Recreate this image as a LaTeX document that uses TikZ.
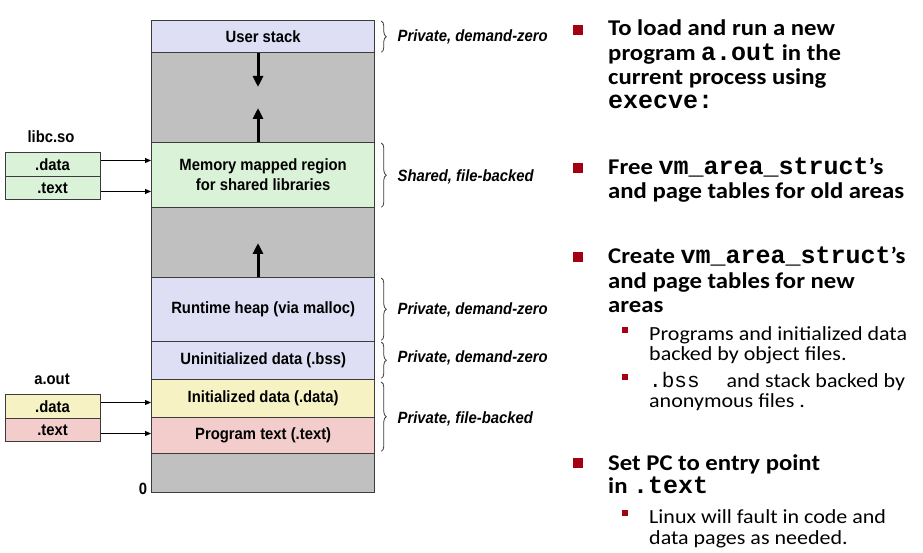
\documentclass[tikz,border=0pt]{standalone}
\usepackage{fontspec}
\setmainfont{Liberation Sans}[FakeStretch=0.91]
\newfontfamily\calfont{Carlito}[FakeStretch=1.1]
\newfontfamily\monofont{Liberation Mono}
\usetikzlibrary{arrows.meta,decorations.pathreplacing}
\definecolor{lav}{RGB}{222,222,244}
\definecolor{grayfill}{RGB}{192,192,192}
\definecolor{grn}{RGB}{218,242,216}
\definecolor{yel}{RGB}{246,242,196}
\definecolor{pnk}{RGB}{243,204,204}
\definecolor{edge}{RGB}{60,60,60}
\definecolor{bul}{RGB}{163,0,18}
\newcommand{\ms}[1]{{\monofont\bfseries\fontsize{25}{25}\selectfont #1}}
\newcommand{\mr}[1]{{\monofont\fontsize{21}{21}\selectfont #1}}
\begin{document}
\begin{tikzpicture}[x=1pt,y=-1pt,
  seg/.style={draw=edge,line width=1.3pt,minimum width=223pt,anchor=north west,inner sep=0pt,
    font=\bfseries\fontsize{16.3}{20}\selectfont,align=center},
  lbox/.style={draw=edge,line width=1pt,minimum width=95pt,anchor=north west,inner sep=0pt,
    font=\bfseries\fontsize{16.3}{18}\selectfont},
  ttl/.style={font=\bfseries\fontsize{16.3}{18}\selectfont,inner sep=0pt},
  lbl/.style={font=\bfseries\itshape\fontsize{16.3}{18}\selectfont,anchor=west,inner sep=0pt},
  bigarrow/.style={line width=3pt,-{Triangle[length=11pt,width=10pt]}},
  smallarrow/.style={draw=edge,line width=1pt,-{Triangle[length=6pt,width=5pt]},black},
  brc/.style={draw=edge,line width=0.8pt,decorate,decoration={brace,amplitude=5pt}},
  mainln/.style={font=\calfont\bfseries\fontsize{22.5}{24}\selectfont,anchor=base west,inner sep=0pt},
  subln/.style={font=\calfont\fontsize{20}{21}\selectfont,anchor=base west,inner sep=0pt},
  bulsq/.style={fill=bul,minimum size=10pt,inner sep=0pt},
  subsq/.style={fill=bul,minimum size=6pt,inner sep=0pt}]
\useasboundingbox (0,0) rectangle (923,553);
\fill[white] (0,0) rectangle (923,553);

% memory column
\node[seg,fill=lav,minimum height=32pt] (stack) at (151,20) {User stack};
\node[seg,fill=grayfill,minimum height=90pt] (g1) at (151,52) {};
\node[seg,fill=grn,minimum height=65pt] (mmap) at (151,142) {Memory mapped region\\for shared libraries};
\node[seg,fill=grayfill,minimum height=70pt] (g2) at (151,207) {};
\node[seg,fill=lav,minimum height=64pt] (heap) at (151,277) {Runtime heap (via malloc)};
\node[seg,fill=lav,minimum height=38pt] (bss) at (151,341) {Uninitialized data (.bss)};
\node[seg,fill=yel,minimum height=38pt] (data) at (151,379) {Initialized data (.data)};
\node[seg,fill=pnk,minimum height=36pt] (text) at (151,417) {Program text (.text)};
\node[seg,fill=grayfill,minimum height=39pt] (g3) at (151,453) {};
\node[ttl] (zero) at (143,489) {0};

% growth arrows
\coordinate (d1) at (258,87);
\coordinate (u1) at (258,108);
\coordinate (u2) at (258,243);
\draw[bigarrow] (stack.south -| d1) -- (d1);
\draw[bigarrow] (mmap.north -| u1) -- (u1);
\draw[bigarrow] (heap.north -| u2) -- (u2);

% libc.so
\node[ttl] (libc) at (51,137) {libc.so};
\node[lbox,fill=grn,minimum height=24pt] (ld) at (4.5,152) {.data};
\node[lbox,fill=grn,minimum height=23pt] (lt) at (4.5,176) {.text};
\draw[smallarrow] ([yshift=4pt]ld.east) -- ([yshift=4pt]ld.east -| mmap.west);
\draw[smallarrow] ([yshift=-3.5pt]lt.east) -- ([yshift=-3.5pt]lt.east -| mmap.west);

% a.out
\node[ttl] (aout) at (52,379) {a.out};
\node[lbox,fill=yel,minimum height=24pt] (ad) at (4.5,394) {.data};
\node[lbox,fill=pnk,minimum height=23pt] (at) at (4.5,418) {.text};
\draw[smallarrow] ([yshift=4pt]ad.east) -- ([yshift=4pt]ad.east -| data.west);
\draw[smallarrow] ([yshift=-3.5pt]at.east) -- ([yshift=-3.5pt]at.east -| text.west);

% braces and labels
\draw[brc] ([xshift=6pt,yshift=-1pt]stack.north east) -- ([xshift=6pt,yshift=1pt]stack.south east);
\draw[brc] ([xshift=6pt,yshift=-1pt]mmap.north east) -- ([xshift=6pt,yshift=1pt]mmap.south east);
\draw[brc] ([xshift=6pt,yshift=-1pt]heap.north east) -- ([xshift=6pt,yshift=2pt]heap.south east);
\draw[brc] ([xshift=6pt,yshift=-1pt]bss.north east) -- ([xshift=6pt,yshift=2pt]bss.south east);
\draw[brc] ([xshift=6pt,yshift=-3pt]data.north east) -- ([xshift=6pt,yshift=3pt]text.south east);
\node[lbl] (p1) at (397.5,37) {Private, demand-zero};
\node[lbl] (p2) at (397.5,177) {Shared, file-backed};
\node[lbl] (p3) at (397.5,310) {Private, demand-zero};
\node[lbl] (p4) at (397.5,358) {Private, demand-zero};
\node[lbl] (p5) at (397.5,419) {Private, file-backed};

% right-hand text
\node[bulsq] (b1) at (578,30) {};
\node[mainln] (r1a) at (608,36) {To load and run a new};
\node[mainln] (r1b) at (608,60.3) {program \ms{a.out} in the};
\node[mainln] (r1c) at (608,84.6) {current process using};
\node[mainln] (r1d) at (608,109) {\ms{execve:}};

\node[bulsq] (b2) at (578,168) {};
\node[mainln] (r2a) at (608,175) {Free \ms{vm\_area\_struct}’s};
\node[mainln] (r2b) at (608,199) {and page tables for old areas};

\node[bulsq] (b3) at (578,257) {};
\node[mainln] (r3a) at (608,264) {Create \ms{vm\_area\_struct}’s};
\node[mainln] (r3b) at (608,288) {and page tables for new};
\node[mainln] (r3c) at (608,312) {areas};
\node[subsq] (s1) at (625,329.5) {};
\node[subln] (r3d) at (649,340) {Programs and initialized data};
\node[subln] (r3e) at (649,360.5) {backed by object files.};
\node[subsq] (s2) at (625,376.5) {};
\node[subln] (r3f) at (649,387) {\mr{.bss}\hspace{22pt} and stack backed by};
\node[subln] (r3g) at (649,407) {anonymous files .};

\node[bulsq] (b4) at (578,463) {};
\node[mainln] (r4a) at (608,470) {Set PC to entry point};
\node[mainln] (r4b) at (608,493) {in \ms{.text}};
\node[subsq] (s3) at (625,513) {};
\node[subln] (r4c) at (649,523) {Linux will fault in code and};
\node[subln] (r4d) at (649,544) {data pages as needed.};
\end{tikzpicture}
\end{document}
